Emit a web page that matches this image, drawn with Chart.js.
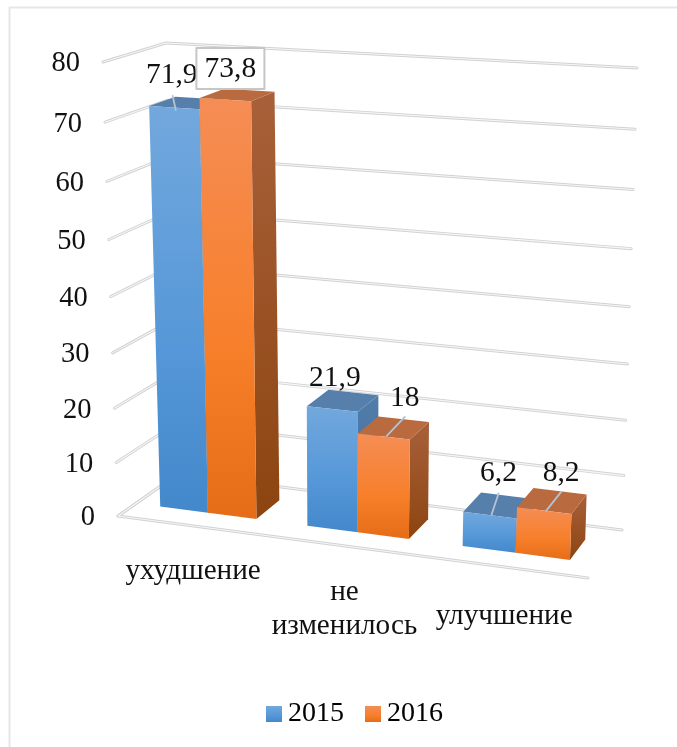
<!DOCTYPE html>
<html>
<head>
<meta charset="utf-8">
<style>
  html, body { margin: 0; padding: 0; background: #fff; overflow: hidden; }
  #box { position: absolute; left: 0; top: 0; width: 709px; height: 747px; }
</style>
<script src="https://cdn.jsdelivr.net/npm/chart.js@4"></script>
</head>
<body>
<div id="box"><canvas id="chart"></canvas></div>
<script>
const categories = ["ухудшение", ["не", "изменилось"], "улучшение"];
const series2015 = [71.9, 21.9, 6.2];
const series2016 = [73.8, 18, 8.2];
const seriesNames = ["2015", "2016"];

const FONT = '"Liberation Serif", "Times New Roman", serif';
const TEXT = "#111";

// screen corners of the 3d box, bottom and top, front and back
const floorFL = [118, 516], floorFR = [588, 578], floorBL = [178, 474], floorBR = [622, 530];
const roofFL = [103, 62], roofFR = [607, 92], roofBL = [166, 43], roofBR = [637, 68];
const barFront = 0.3, barBack = 0.73;

// label placement relative to the top face of each bar, per category then per series
const labelOffsets = [
  [[-15.5, -28], [-7, -26]],
  [[-8, -22], [11, -30]],
  [[0, -32], [9, -28]]
];
// leader lines relative to the label centre, null where there is none
const leaderLines = [
  [[1, 21, 4, 35], null],
  [null, [0, 19, -18, 38]],
  [[0, 20, -7, 41], [0, 19, -15, 38]]
];
const catOffsets = [[2, 46], [1, 47], [0, 49]];

const palette = [
  { top: "#72A8DD", mid: "#5597D8", bottom: "#4388CB", roof: "#567FAC", sideTop: "#517DAA", sideBottom: "#3D6D9F" },
  { top: "#F58D55", mid: "#F77F2A", bottom: "#E66D17", roof: "#B96B3F", sideTop: "#A8603A", sideBottom: "#8C4510" }
];

function lerp(a, b, t) { return [a[0] + (b[0] - a[0]) * t, a[1] + (b[1] - a[1]) * t]; }
function warpU(u) { return u / (u + (1 - u) * 1.085); }
function warpV(v) { return v / (v + (1 - v) * 1.07); }

function project(u, v, w) {
  const uu = warpU(u), t = warpV(v);
  const low = lerp(lerp(floorFL, floorFR, uu), lerp(floorBL, floorBR, uu), w);
  const high = lerp(lerp(roofFL, roofFR, uu), lerp(roofBL, roofBR, uu), w);
  return lerp(low, high, t);
}

function poly(ctx, pts, fill) {
  ctx.beginPath();
  ctx.moveTo(pts[0][0], pts[0][1]);
  for (let i = 1; i < pts.length; i++) ctx.lineTo(pts[i][0], pts[i][1]);
  ctx.closePath();
  ctx.fillStyle = fill;
  ctx.fill();
}

function gridLine(ctx, pts) {
  ctx.beginPath();
  ctx.moveTo(pts[0][0], pts[0][1]);
  for (let i = 1; i < pts.length; i++) ctx.lineTo(pts[i][0], pts[i][1]);
  ctx.lineJoin = "round";
  ctx.lineCap = "round";
  ctx.strokeStyle = "#d0d2d4";
  ctx.lineWidth = 3;
  ctx.stroke();
  ctx.strokeStyle = "#f6f6f6";
  ctx.lineWidth = 1.1;
  ctx.stroke();
}

function frontGradient(ctx, col, y0, y1) {
  const g = ctx.createLinearGradient(0, y0, 0, y1);
  g.addColorStop(0, col.top);
  g.addColorStop(0.6, col.mid);
  g.addColorStop(1, col.bottom);
  return g;
}

const bars3d = {
  id: "bars3d",
  beforeDraw(chart) {
    const ctx = chart.ctx;
    ctx.save();
    ctx.strokeStyle = "#e3e7eb";
    ctx.lineWidth = 2;
    ctx.strokeRect(9.5, 7.5, 689, 780);
    ctx.restore();
  },
  beforeDatasetsDraw(chart) {
    const ctx = chart.ctx, area = chart.chartArea;
    const xs = chart.scales.x, ys = chart.scales.y;
    const toU = x => (x - area.left) / area.width;
    const toV = val => (area.bottom - ys.getPixelForValue(val)) / area.height;

    // walls and floor
    ctx.save();
    ys.ticks.forEach(t => {
      const v = toV(t.value);
      gridLine(ctx, [project(0, v, 0), project(0, v, 1), project(1, v, 1)]);
    });
    gridLine(ctx, [project(0, 0, 1), project(0, 0, 0), project(1, 0, 0)]);

    // bars, left to right
    const labelsToDraw = [];
    categories.forEach((c, i) => {
      chart.data.datasets.forEach((ds, d) => {
        const el = chart.getDatasetMeta(d).data[i];
        const u0 = toU(el.x - el.width / 2), u1 = toU(el.x + el.width / 2);
        const v = toV(ds.data[i]);
        const col = palette[d];
        const a = project(u0, 0, barFront), b = project(u1, 0, barFront);
        const e = project(u0, v, barFront), f = project(u1, v, barFront);
        const bb = project(u1, 0, barBack), fb = project(u1, v, barBack), eb = project(u0, v, barBack);

        const side = ctx.createLinearGradient(0, fb[1], 0, b[1]);
        side.addColorStop(0, col.sideTop);
        side.addColorStop(1, col.sideBottom);
        poly(ctx, [f, fb, bb, b], side);
        poly(ctx, [e, eb, fb, f], col.roof);
        poly(ctx, [e, f, b, a], frontGradient(ctx, col, e[1], b[1]));

        const cx = (e[0] + f[0] + eb[0] + fb[0]) / 4, cy = (e[1] + f[1] + eb[1] + fb[1]) / 4;
        labelsToDraw.push({ d, i, val: ds.data[i], cx, cy });
      });
    });

    // data labels
    ctx.textAlign = "center";
    ctx.textBaseline = "middle";
    ctx.font = "29.5px " + FONT;
    labelsToDraw.forEach(l => {
      const off = labelOffsets[l.i][l.d];
      const x = l.cx + off[0], y = l.cy + off[1];
      const lead = leaderLines[l.i][l.d];
      if (lead) {
        ctx.beginPath();
        ctx.moveTo(x + lead[0], y + lead[1]);
        ctx.lineTo(x + lead[2], y + lead[3]);
        ctx.strokeStyle = "#b4c3d2";
        ctx.lineWidth = 1.8;
        ctx.stroke();
      }
      // the tallest value sits in a white callout
      if (l.val === Math.max(...series2016)) {
        ctx.fillStyle = "#fff";
        ctx.fillRect(x - 34, y - 21, 68, 41);
        ctx.strokeStyle = "#c6c6c6";
        ctx.lineWidth = 2;
        ctx.strokeRect(x - 34, y - 21, 68, 41);
      }
      ctx.fillStyle = TEXT;
      ctx.fillText(String(l.val).replace(".", ","), x, y);
    });

    // value axis
    ctx.textAlign = "right";
    ctx.font = "28.5px " + FONT;
    ys.ticks.forEach(t => {
      const p = project(0, toV(t.value), 0);
      ctx.fillText(String(t.value), p[0] - 23, p[1] + 2);
    });

    // category axis
    ctx.textAlign = "center";
    ctx.font = "29.2px " + FONT;
    categories.forEach((c, i) => {
      const p = project(toU(xs.getPixelForValue(i)), 0, 0);
      const lines = Array.isArray(c) ? c : [c];
      lines.forEach((line, n) => {
        ctx.fillText(line, p[0] + catOffsets[i][0], p[1] + catOffsets[i][1] + n * 34);
      });
    });
    ctx.restore();
    return false;
  },
  afterDraw(chart) {
    // legend swatches, chart.js leaves too wide a gap before the text
    const ctx = chart.ctx;
    chart.legend.legendHitBoxes.forEach((box, d) => {
      const y = box.top + box.height / 2 - 8;
      ctx.fillStyle = frontGradient(ctx, palette[d], y, y + 16);
      ctx.fillRect(box.left, y, 16, 16);
    });
  }
};

new Chart("chart", {
  type: "bar",
  data: {
    labels: categories,
    datasets: [
      { label: seriesNames[0], data: series2015, backgroundColor: palette[0].bottom },
      { label: seriesNames[1], data: series2016, backgroundColor: palette[1].bottom }
    ]
  },
  options: {
    responsive: true,
    maintainAspectRatio: false,
    animation: false,
    categoryPercentage: 0.66,
    barPercentage: 1,
    layout: { padding: { bottom: 9 } },
    scales: {
      x: { display: false },
      y: { display: false, min: 0, max: 80, ticks: { stepSize: 10 } }
    },
    plugins: {
      tooltip: { enabled: false },
      legend: {
        position: "bottom",
        labels: {
          color: TEXT,
          font: { family: FONT, size: 28 },
          boxWidth: 8,
          boxHeight: 0,
          padding: 21,
          generateLabels(chart) {
            return chart.data.datasets.map((ds, d) => ({
              text: ds.label, fillStyle: "rgba(0,0,0,0)", strokeStyle: "rgba(0,0,0,0)", lineWidth: 0, datasetIndex: d
            }));
          }
        }
      }
    }
  },
  plugins: [bars3d]
});
</script>
</body>
</html>
